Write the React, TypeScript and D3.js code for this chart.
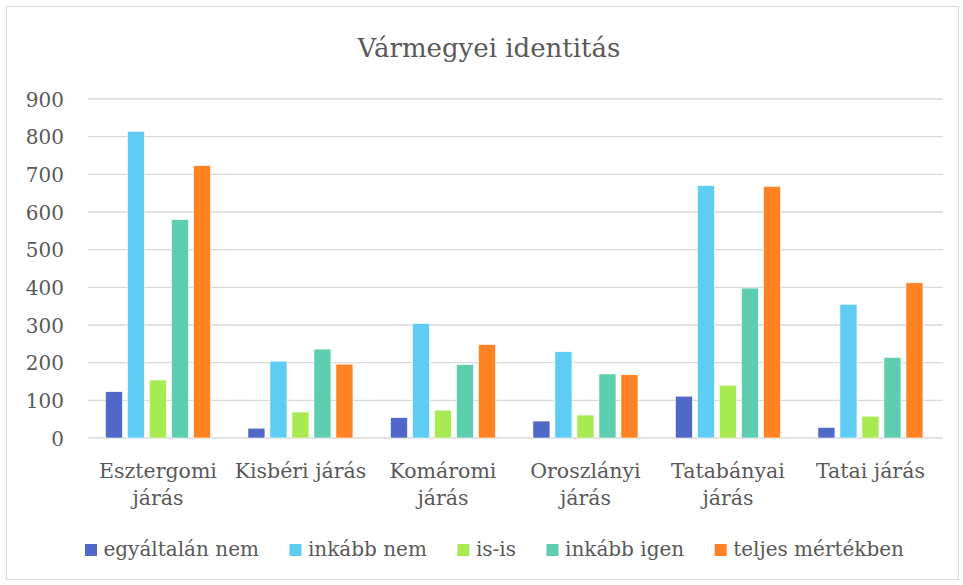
import React, { useMemo } from "react";
import * as d3 from "d3";

const categories = [
  "Esztergomi járás",
  "Kisbéri járás",
  "Komáromi járás",
  "Oroszlányi járás",
  "Tatabányai járás",
  "Tatai járás",
];

const seriesNames = [
  "egyáltalán nem",
  "inkább nem",
  "is-is",
  "inkább igen",
  "teljes mértékben",
];

const egyaltalanNem = [123, 26, 54, 45, 111, 28];
const inkabbNem = [814, 204, 304, 229, 670, 355];
const isIs = [154, 69, 74, 61, 140, 58];
const inkabbIgen = [580, 236, 195, 170, 398, 214];
const teljesMertekben = [723, 196, 248, 168, 668, 412];

const seriesValues = [egyaltalanNem, inkabbNem, isIs, inkabbIgen, teljesMertekben];

const yTicks = [0, 100, 200, 300, 400, 500, 600, 700, 800, 900];

const colors = ["#5068C8", "#5FCCF3", "#A8EA52", "#5DCEB0", "#FF8322"];

const W = 963;
const H = 585;
const FONT = "'DejaVu Serif', serif";
const TEXT = "#595959";
const GRID = "#D9D9D9";

function measure(text: string, size: number): number {
  const c = document.createElement("canvas").getContext("2d");
  if (!c) return text.length * size * 0.55;
  c.font = `${size}px DejaVu Serif`;
  return c.measureText(text).width;
}

function wrap(label: string, maxW: number, size: number): string[] {
  if (measure(label, size) <= maxW) return [label];
  const words = label.split(" ");
  const lines: string[] = [];
  let cur = "";
  for (const w of words) {
    const t = cur ? cur + " " + w : w;
    if (cur && measure(t, size) > maxW) {
      lines.push(cur);
      cur = w;
    } else cur = t;
  }
  if (cur) lines.push(cur);
  return lines;
}

export default function App() {
  const x = d3.scaleBand<string>().domain(categories).range([86.7, 941.7]).padding(0);
  const groupW = x.bandwidth() * 0.737;
  const xs = d3
    .scaleBand<string>()
    .domain(seriesNames)
    .range([0, groupW])
    .paddingInner(0.227)
    .paddingOuter(0);
  const y = d3.scaleLinear().domain([0, 900]).range([438, 99]);

  const catFont = 20.5;
  const labelLines = useMemo(
    () => categories.map((c) => wrap(c, x.bandwidth() - 6, catFont)),
    []
  );

  const legFont = 20;
  const legendItems = useMemo(() => {
    const sq = 12;
    const gapSq = 6.5;
    const gap = 30.5;
    const widths = seriesNames.map((s) => measure(s, legFont));
    const total =
      widths.reduce((a, b) => a + b, 0) + seriesNames.length * (sq + gapSq) + gap * (seriesNames.length - 1);
    let cx = 494.5 - total / 2;
    return seriesNames.map((s, i) => {
      const item = { name: s, x: cx, color: colors[i] };
      cx += sq + gapSq + widths[i] + gap;
      return item;
    });
  }, []);

  return (
    <svg
      width={W}
      height={H}
      style={{ position: "absolute", left: 0, top: 0, background: "#fff" }}
      fontFamily={FONT}
    >
      <rect x={0} y={0} width={W} height={H} fill="#fff" />
      <rect x={6.5} y={6.5} width={952} height={573} fill="#fff" stroke={GRID} strokeWidth={1} />

      <text x={489} y={56.5} textAnchor="middle" fontSize={26} fill={TEXT}>
        Vármegyei identitás
      </text>

      {yTicks.map((t) => (
        <g key={t}>
          <line x1={88} x2={943} y1={y(t)} y2={y(t)} stroke={GRID} strokeWidth={1.4} />
          <text x={64} y={y(t) + 7.5} textAnchor="end" fontSize={20} fill={TEXT}>
            {t}
          </text>
        </g>
      ))}

      {categories.map((c, ci) => {
        const gx = (x(c) as number) + (x.bandwidth() - groupW) / 2;
        return (
          <g key={c}>
            {seriesNames.map((s, si) => {
              const v = seriesValues[si][ci];
              return (
                <rect
                  key={s}
                  x={gx + (xs(s) as number)}
                  y={y(v)}
                  width={xs.bandwidth()}
                  height={y(0) - y(v)}
                  fill={colors[si]}
                  stroke="#fff"
                  strokeWidth={0.6}
                />
              );
            })}
          </g>
        );
      })}

      {categories.map((c, ci) => (
        <text
          key={c}
          x={(x(c) as number) + x.bandwidth() / 2}
          textAnchor="middle"
          fontSize={catFont}
          fill={TEXT}
        >
          {labelLines[ci].map((ln, li) => (
            <tspan key={li} x={(x(c) as number) + x.bandwidth() / 2} y={478 + li * 27}>
              {ln}
            </tspan>
          ))}
        </text>
      ))}

      {legendItems.map((it) => (
        <g key={it.name}>
          <rect x={it.x} y={544} width={12} height={12} fill={it.color} />
          <text x={it.x + 18.5} y={556} fontSize={legFont} fill={TEXT}>
            {it.name}
          </text>
        </g>
      ))}
    </svg>
  );
}
